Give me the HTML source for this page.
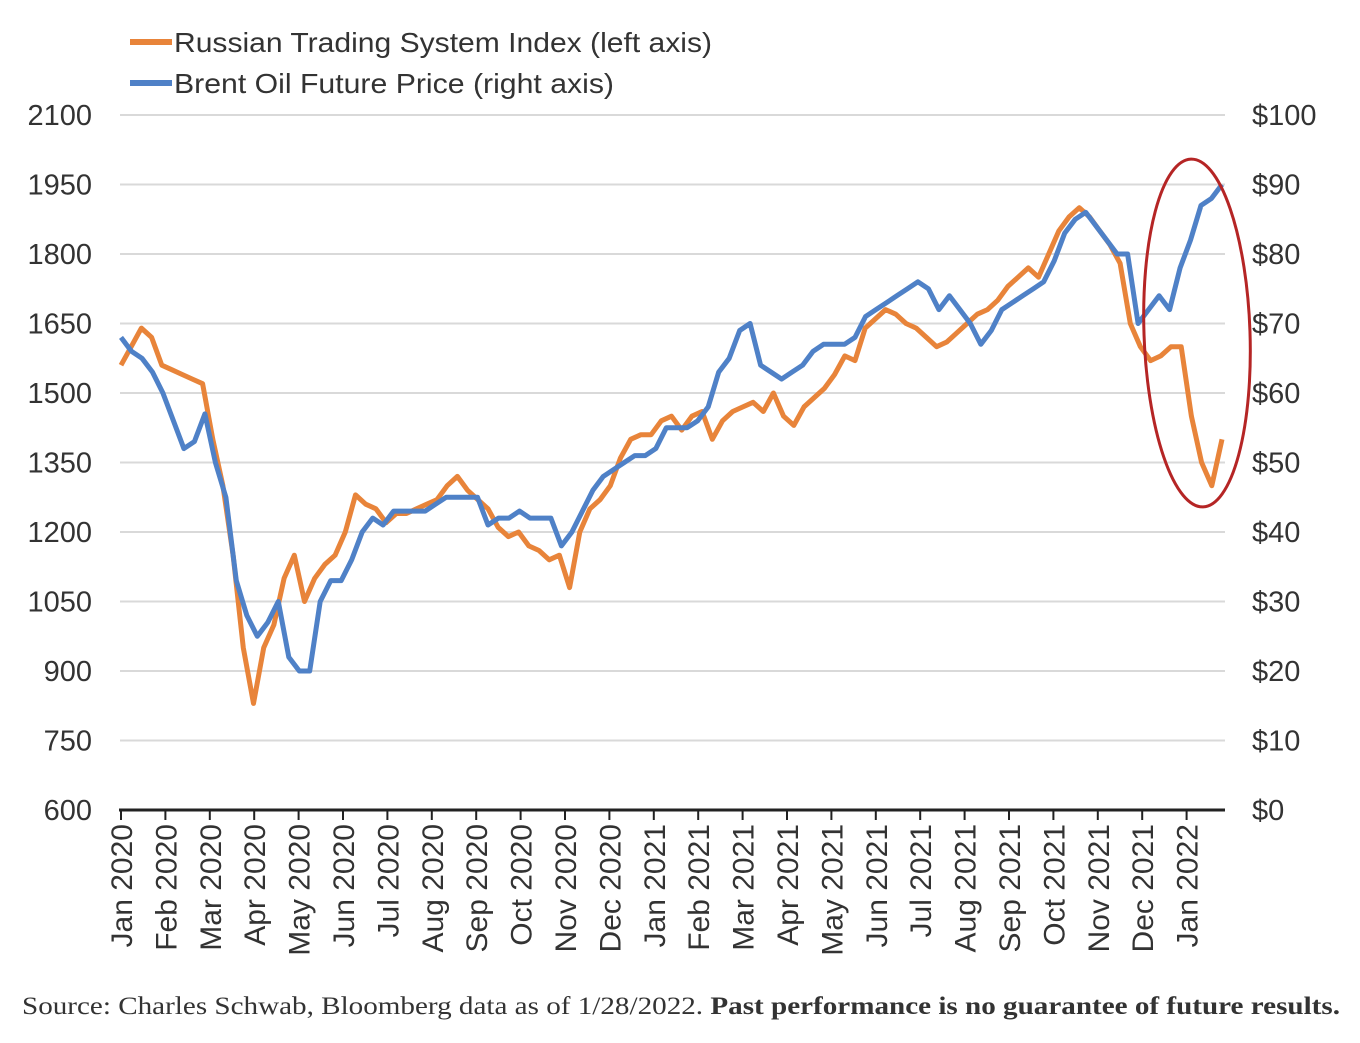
<!DOCTYPE html>
<html><head><meta charset="utf-8"><style>
body{margin:0;background:#fff;width:1360px;height:1038px;overflow:hidden}
svg text{font-family:"Liberation Sans",sans-serif}
</style></head><body>
<svg id="chart" width="1360" height="1038" xmlns="http://www.w3.org/2000/svg">
<g>
<line x1="130" y1="42" x2="172" y2="42" stroke="#e8843a" stroke-width="6"/>
<text x="174" y="52" font-size="28" textLength="538" lengthAdjust="spacingAndGlyphs" fill="#333">Russian Trading System Index (left axis)</text>
<line x1="130" y1="83" x2="172" y2="83" stroke="#4f81c7" stroke-width="6"/>
<text x="174" y="93" font-size="28" textLength="440" lengthAdjust="spacingAndGlyphs" fill="#333">Brent Oil Future Price (right axis)</text>
</g>
<g id="grid"></g><g id="axes"></g><g id="series"></g>
<ellipse cx="1197" cy="333" rx="53" ry="174" transform="rotate(-2 1197 333)" fill="none" stroke="#b52525" stroke-width="3"/>
<text x="22" y="1014" font-size="25" textLength="1318" lengthAdjust="spacingAndGlyphs" fill="#333" style="font-family:'Liberation Serif',serif">Source: Charles Schwab, Bloomberg data as of 1/28/2022.  <tspan font-weight="bold">Past performance is no guarantee of future results.</tspan></text>
</svg>
<script>
const leftTicks=[600,750,900,1050,1200,1350,1500,1650,1800,1950,2100];
const rightTicks=["$0","$10","$20","$30","$40","$50","$60","$70","$80","$90","$100"];
const months=["Jan 2020","Feb 2020","Mar 2020","Apr 2020","May 2020","Jun 2020","Jul 2020","Aug 2020","Sep 2020","Oct 2020","Nov 2020","Dec 2020","Jan 2021","Feb 2021","Mar 2021","Apr 2021","May 2021","Jun 2021","Jul 2021","Aug 2021","Sep 2021","Oct 2021","Nov 2021","Dec 2021","Jan 2022"];
const rtsValues=[1560,1600,1640,1620,1560,1550,1540,1530,1520,1400,1300,1150,950,830,950,1000,1100,1150,1050,1100,1130,1150,1200,1280,1260,1250,1220,1240,1240,1250,1260,1270,1300,1320,1290,1270,1250,1210,1190,1200,1170,1160,1140,1150,1080,1200,1250,1270,1300,1360,1400,1410,1410,1440,1450,1420,1450,1460,1400,1440,1460,1470,1480,1460,1500,1450,1430,1470,1490,1510,1540,1580,1570,1640,1660,1680,1670,1650,1640,1620,1600,1610,1630,1650,1670,1680,1700,1730,1750,1770,1750,1800,1850,1880,1900,1880,1850,1820,1780,1650,1600,1570,1580,1600,1600,1450,1350,1300,1400];
const brentValues=[68,66,65,63,60,56,52,53,57,50,45,33,28,25,27,30,22,20,20,30,33,33,36,40,42,41,43,43,43,43,44,45,45,45,45,41,42,42,43,42,42,42,38,40,43,46,48,49,50,51,51,52,55,55,55,56,58,63,65,69,70,64,63,62,63,64,66,67,67,67,68,71,72,73,74,75,76,75,72,74,72,70,67,69,72,73,74,75,76,79,83,85,86,84,82,80,80,70,72,74,72,78,82,87,88,90];
const NS="http://www.w3.org/2000/svg";
const X0=121,X1=1222,Y0=810,Y1=115;
const yL=v=>Y0-(v-600)/1500*(Y0-Y1);
const yR=v=>Y0-v/100*(Y0-Y1);
const xM=i=>121+i*44.4;
const xI=(i,n)=>X0+i*(X1-X0)/(n-1);
function mk(t,a,p){const e=document.createElementNS(NS,t);for(const k in a)e.setAttribute(k,a[k]);p.appendChild(e);return e;}
const grid=document.getElementById('grid'),axes=document.getElementById('axes'),ser=document.getElementById('series');
leftTicks.forEach((v,i)=>{
 const y=yL(v);
 if(i>0){const g=mk('line',{x1:120,x2:1225,y1:y,y2:y,stroke:'#d9d9d9','stroke-width':2},grid);
 
 }
 const t=mk('text',{x:92,y:y+10,'font-size':29,fill:'#333','text-anchor':'end'},axes);t.textContent=v;
 
 
 const r=mk('text',{x:1252,y:y+10,'font-size':29,fill:'#333'},axes);r.textContent=rightTicks[i];
 
 
});
const base=mk('line',{x1:119,x2:1225,y1:Y0,y2:Y0,stroke:'#222','stroke-width':3},axes);


months.forEach((m,i)=>{
 const x=xM(i);
 mk('line',{x1:x,x2:x,y1:Y0,y2:Y0+10,stroke:'#222','stroke-width':2},axes);
 const t=mk('text',{x:0,y:0,'font-size':30,fill:'#333','text-anchor':'end',transform:`translate(${x+11},${Y0+14}) rotate(-90)`},axes);
 t.textContent=m;
 
 
});
function line(vals,yf,col,name){
 const d=vals.map((v,i)=>(i?'L':'M')+xI(i,vals.length).toFixed(1)+','+yf(v).toFixed(1)).join('');
 const p=mk('path',{d:d,fill:'none',stroke:col,'stroke-width':5,'stroke-linejoin':'round'},ser);
 
 
}
line(rtsValues,yL,'#e8843a','rts-line');
line(brentValues,yR,'#4f81c7','brent-line');
</script>
</body></html>
